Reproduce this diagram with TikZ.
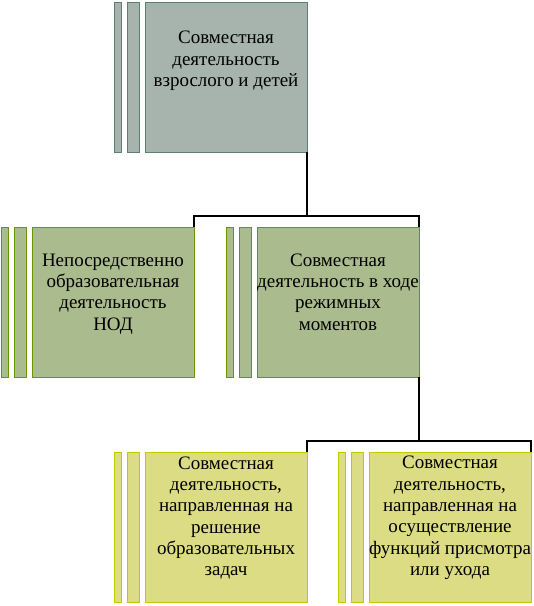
\documentclass[tikz,border=0pt]{standalone}
\usepackage{fontspec}
\setmainfont{Liberation Serif}
\newfontfamily\tnrfont{Liberation Serif}
\definecolor{gfill}{HTML}{A6B4AD}
\definecolor{gline}{HTML}{5B7F73}
\definecolor{vfill}{HTML}{AABB8E}
\definecolor{vline}{HTML}{669900}
\definecolor{yfill}{HTML}{DCDC84}
\definecolor{yline}{HTML}{C8C800}
\begin{document}
\begin{tikzpicture}[x=1pt,y=-1pt,
  box/.style={draw=#1line, fill=#1fill, line width=1pt, minimum width=162pt, minimum height=150pt, inner sep=0pt, outer sep=0pt},
  barA/.style={draw=#1line, fill=#1fill, line width=1pt, minimum width=7pt, minimum height=150pt, inner sep=0pt, outer sep=0pt},
  barB/.style={draw=#1line, fill=#1fill, line width=1pt, minimum width=12pt, minimum height=150pt, inner sep=0pt, outer sep=0pt},
  txt/.style={align=center, inner sep=0pt, font=\tnrfont\fontsize{19}{21.3}\selectfont},
  conn/.style={draw=black, line width=1.2pt}]
\useasboundingbox (0,0) rectangle (534,606);
% top
\node[box=g] (top) at (226,77) {};
\node[barA=g] (topa) at (117.5,77) {};
\node[barB=g] (topb) at (133,77) {};
\node[txt] (toptxt) at (226,61) {Совместная\\деятельность\\взрослого и детей};
% second row left
\node[box=v] (nod) at (113,302) {};
\node[barA=v] (noda) at (4.5,302) {};
\node[barB=v] (nodb) at (20,302) {};
\node[txt] (nodtxt) at (113,294) {Непосредственно\\образовательная\\деятельность\\НОД};
% second row right
\node[box=v] (rez) at (338,302) {};
\node[barA=v] (reza) at (229.5,302) {};
\node[barB=v] (rezb) at (245,302) {};
\node[txt] (reztxt) at (338,292) {Совместная\\деятельность в ходе\\режимных\\моментов};
% bottom left
\node[box=y] (obr) at (226,527) {};
\node[barA=y] (obra) at (117.5,527) {};
\node[barB=y] (obrb) at (133,527) {};
\node[txt] (obrtxt) at (226,518) {Совместная\\деятельность,\\направленная на\\решение\\образовательных\\задач};
% bottom right
\node[box=y] (pris) at (450,527) {};
\node[barA=y] (prisa) at (341.5,527) {};
\node[barB=y] (prisb) at (357,527) {};
\node[txt] (pristxt) at (450,518) {Совместная\\деятельность,\\направленная на\\осуществление\\функций присмотра\\или ухода};
% connectors
\path (top.south east) ++(0,64) coordinate (j1);
\draw[conn] (top.south east) -- (j1) -| (nod.north east);
\draw[conn] (j1) -| (rez.north east);
\path (rez.south east) ++(0,64) coordinate (j2);
\draw[conn] (rez.south east) -- (j2) -| (obr.north east);
\draw[conn] (j2) -| (pris.north east);
\end{tikzpicture}
\end{document}
